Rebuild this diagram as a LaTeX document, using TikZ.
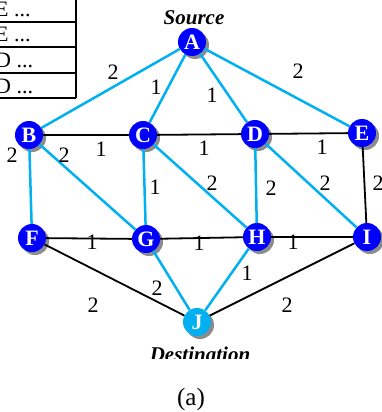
\documentclass[tikz,border=0pt]{standalone}
\usepackage{fontspec}
\setmainfont{Liberation Serif}
\usetikzlibrary{shadows}
\definecolor{NetBlue}{HTML}{0000FF}
\definecolor{NetCyan}{HTML}{00B0F0}
\definecolor{NetShade}{HTML}{8C8C8C}
\tikzset{
  router/.style={circle,fill=NetBlue,minimum size=28pt,inner sep=0pt,text=white,
    font=\fontsize{22}{22}\selectfont\bfseries,
    drop shadow={shadow xshift=3pt,shadow yshift=-3pt,fill=NetShade,opacity=1}},
  wt/.style={inner sep=0pt,font=\fontsize{22}{22}\selectfont},
  path/.style={draw=NetCyan,line width=2.5pt},
  link/.style={draw=black,line width=1.8pt},
  tag/.style={inner sep=0pt,font=\fontsize{21}{21}\selectfont\bfseries\itshape}
}

\begin{document}
\begin{tikzpicture}[x=1pt,y=-1pt]
    \useasboundingbox (0,0) rectangle (381,412);
    % routing table, cut at the left
    \draw[line width=1.3pt] (-5,22) -- (76,22) (-5,47) -- (76,47)
      (-5,73) -- (76,73) (-5,98) -- (76,98) (76,-5) -- (76,98);
    \node[wt,anchor=base west] (t1) at (-5,17) {E ...};
    \node[wt,anchor=base west] (t2) at (-5,42) {E ...};
    \node[wt,anchor=base west] (t3) at (-5,67) {D ...};
    \node[wt,anchor=base west] (t4) at (-5,93) {D ...};

    \node[router] (A) at (192,42) {A};
    \node[router] (B) at (29,135) {B};
    \node[router] (C) at (143,135) {C};
    \node[router] (D) at (255,134) {D};
    \node[router] (E) at (362,133) {E};
    \node[router] (F) at (32,238) {F};
    \node[router] (G) at (146,239) {G};
    \node[router] (H) at (257,237) {H};
    \node[router] (I) at (367,237) {I};
    \node[router,fill=NetCyan] (J) at (197,322) {J};

    \draw[path] (A) -- (B) (A) -- (C) (A) -- (D) (A) -- (E);
    \draw[path] (B) -- (F) (B) -- (G) (C) -- (G) (C) -- (H);
    \draw[path] (D) -- (H) (D) -- (I) (G) -- (J) (H) -- (J);
    \draw[link] (B) -- (C) (C) -- (D) (D) -- (E) (E) -- (I);
    \draw[link] (F) -- (G) (G) -- (H) (H) -- (I) (F) -- (J) (I) -- (J);

    \node[wt] (wAB) at (113,72) {2};
    \node[wt] (wAC) at (156,87) {1};
    \node[wt] (wAD) at (212,95) {1};
    \node[wt] (wAE) at (298,71) {2};
    \node[wt] (wBC) at (101,149) {1};
    \node[wt] (wCD) at (204,148) {1};
    \node[wt] (wDE) at (322,147) {1};
    \node[wt] (wBF) at (12,155) {2};
    \node[wt] (wBG) at (64,155) {2};
    \node[wt] (wCG) at (155,187) {1};
    \node[wt] (wCH) at (212,183) {2};
    \node[wt] (wDH) at (271,188) {2};
    \node[wt] (wDI) at (325,183) {2};
    \node[wt] (wEI) at (378,183) {2};
    \node[wt] (wFG) at (92,242) {1};
    \node[wt] (wGH) at (199,243) {1};
    \node[wt] (wHI) at (293,242) {1};
    \node[wt] (wFJ) at (93,305) {2};
    \node[wt] (wGJ) at (157,288) {2};
    \node[wt] (wHJ) at (247,273) {1};
    \node[wt] (wIJ) at (287,305) {2};

    \node[tag,anchor=base] (src) at (194,25) {Source};
    \begin{scope}
      \clip (0,0) rectangle (381,358);
      \node[tag,anchor=base] (dst) at (200,361) {Destination};
    \end{scope}
    \node[wt,anchor=base,font=\fontsize{25}{25}\selectfont] (cap) at (191,405) {(a)};
\end{tikzpicture}
\end{document}
